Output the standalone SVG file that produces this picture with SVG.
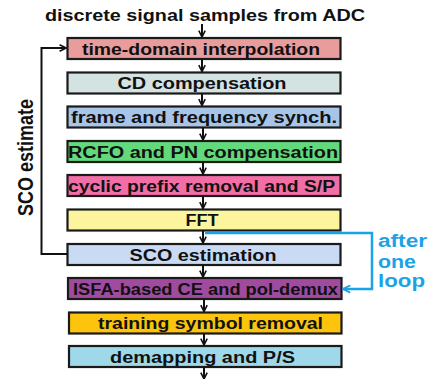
<svg xmlns="http://www.w3.org/2000/svg" width="436" height="379" viewBox="0 0 436 379">
  <style>
    .box { stroke: #1a1a1a; stroke-width: 2.2; }
    .lbl { font-family: "Liberation Sans", Arial, sans-serif; font-weight: bold; font-size: 16px; fill: #111; text-anchor: middle; }
    .flow { stroke: #111; stroke-width: 2; fill: none; marker-end: url(#head); }
    .loop { stroke: #1aa3e6; stroke-width: 2.5; fill: none; marker-end: url(#headBlue); }
    .note { font-family: "Liberation Sans", Arial, sans-serif; font-weight: bold; font-size: 18px; fill: #1aa3e6; }
  </style>
  <defs>
    <marker id="head" viewBox="0 0 10 10" refX="9" refY="5" markerWidth="8" markerHeight="8" markerUnits="userSpaceOnUse" orient="auto">
      <path d="M1,1 L9,5 L1,9" fill="none" stroke="#111" stroke-width="2"/>
    </marker>
    <marker id="headBlue" viewBox="0 0 10 10" refX="9" refY="5" markerWidth="9" markerHeight="9" markerUnits="userSpaceOnUse" orient="auto">
      <path d="M1,1 L9,5 L1,9" fill="none" stroke="#1aa3e6" stroke-width="2"/>
    </marker>
  </defs>

  <!-- input label -->
  <text class="lbl" x="205" y="21" textLength="320" lengthAdjust="spacingAndGlyphs">discrete signal samples from ADC</text>

  <!-- processing chain -->
  <g id="n1"><rect class="box" x="67.5" y="38" width="273" height="21" fill="#e99c9c"/>
    <text class="lbl" x="201" y="54.5" textLength="238" lengthAdjust="spacingAndGlyphs">time-domain interpolation</text></g>
  <g id="n2"><rect class="box" x="67.5" y="72.5" width="273" height="21" fill="#d4e2e2"/>
    <text class="lbl" x="202" y="89" textLength="169" lengthAdjust="spacingAndGlyphs">CD compensation</text></g>
  <g id="n3"><rect class="box" x="67.5" y="106.5" width="273" height="21" fill="#a8c5e8"/>
    <text class="lbl" x="204" y="123" textLength="266" lengthAdjust="spacingAndGlyphs">frame and frequency synch.</text></g>
  <g id="n4"><rect class="box" x="67.5" y="141" width="273" height="21" fill="#62d97a"/>
    <text class="lbl" x="203" y="157.5" textLength="270" lengthAdjust="spacingAndGlyphs">RCFO and PN compensation</text></g>
  <g id="n5"><rect class="box" x="67.5" y="175" width="273" height="21" fill="#f26ea6"/>
    <text class="lbl" x="201.5" y="191.5" textLength="267" lengthAdjust="spacingAndGlyphs">cyclic prefix removal and S/P</text></g>
  <g id="n6"><rect class="box" x="67.5" y="209.5" width="273" height="21" fill="#fcf59d"/>
    <text class="lbl" x="202" y="226" textLength="33" lengthAdjust="spacingAndGlyphs">FFT</text></g>
  <g id="n7"><rect class="box" x="67.5" y="244" width="273" height="21" fill="#c9daf4"/>
    <text class="lbl" x="203" y="260.5" textLength="147" lengthAdjust="spacingAndGlyphs">SCO estimation</text></g>
  <g id="n8"><rect class="box" x="68" y="278" width="273.5" height="21" fill="#a04ba0"/>
    <text class="lbl" x="205.5" y="294.5" textLength="265" lengthAdjust="spacingAndGlyphs">ISFA-based CE and pol-demux</text></g>
  <g id="n9"><rect class="box" x="69" y="312.5" width="272.5" height="21" fill="#fcc40c"/>
    <text class="lbl" x="210.5" y="329" textLength="225" lengthAdjust="spacingAndGlyphs">training symbol removal</text></g>
  <g id="n10"><rect class="box" x="69" y="346" width="272.5" height="21" fill="#9fd8e8"/>
    <text class="lbl" x="202.5" y="362.5" textLength="185" lengthAdjust="spacingAndGlyphs">demapping and P/S</text></g>

  <!-- connectors -->
  <g id="connectors">
    <path class="flow" d="M202,24 V37"/>
    <path class="flow" d="M202,59 V71.5"/>
    <path class="flow" d="M202,93.5 V105.5"/>
    <path class="flow" d="M203,127.5 V140"/>
    <path class="flow" d="M203,162 V174"/>
    <path class="flow" d="M203,196 V208.5"/>
    <path class="flow" d="M203,230.5 V243"/>
    <path class="flow" d="M203,265 V277"/>
    <path class="flow" d="M204,299 V311.5"/>
    <path class="flow" d="M204,333.5 V345"/>
    <path class="flow" d="M204,367 V379"/>
    <!-- SCO feedback to interpolation -->
    <path class="flow" d="M67.5,254 H41.5 V48 H66"/>
    <!-- second-pass route -->
    <path class="loop" d="M205,233 H372 V289 H343"/>
  </g>

  <text class="lbl" transform="translate(33,157.5) scale(1.2,1) rotate(-90)" style="font-size:18px">SCO estimate</text>

  <g id="loop-note">
    <text class="note" x="378" y="247" textLength="49" lengthAdjust="spacingAndGlyphs">after</text>
    <text class="note" x="378" y="268" textLength="38" lengthAdjust="spacingAndGlyphs">one</text>
    <text class="note" x="378" y="287" textLength="47" lengthAdjust="spacingAndGlyphs">loop</text>
  </g>
</svg>
